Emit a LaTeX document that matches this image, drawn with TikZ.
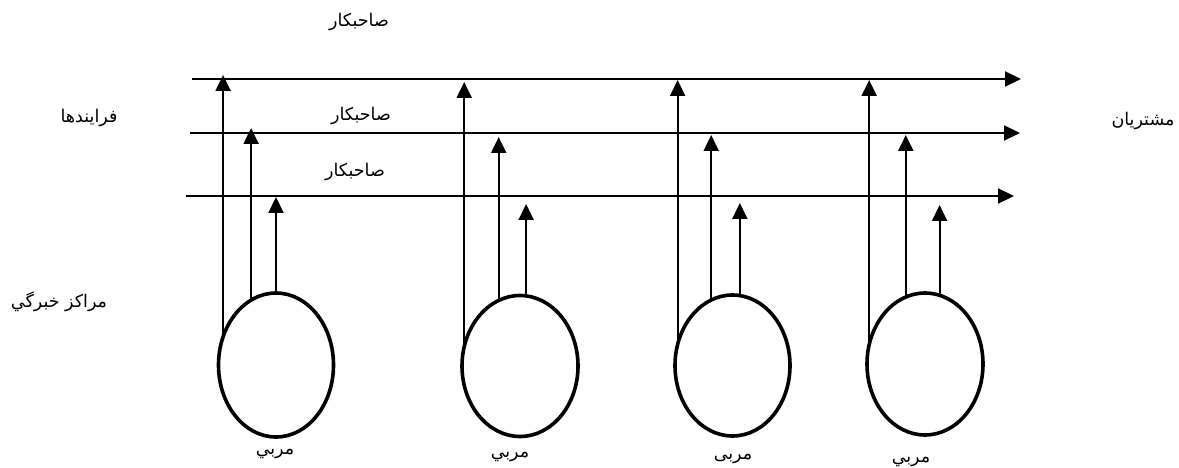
\documentclass[tikz,border=0pt]{standalone}
\usepackage{fontspec}
\newfontfamily\arabicfont[Script=Arabic]{DejaVu Sans}
\TeXXeTstate=1
\usetikzlibrary{arrows.meta,shapes.geometric}
\begin{document}
\begin{tikzpicture}[x=1pt,y=-1pt,
  ln/.style={line width=2.2pt},
  arr/.style={ln,-{Triangle[length=16pt,width=15pt]}},
  oval/.style={ellipse,draw,line width=3.6pt,inner sep=0pt,outer sep=0pt},
  lbl/.style={font=\arabicfont\fontsize{17.5}{20}\selectfont,inner sep=0pt}]
\useasboundingbox[fill=white] (0,0) rectangle (1179,468);

% horizontal process lines
\coordinate (h1s) at (192,79);  \coordinate (h1e) at (1021,79);
\coordinate (h2s) at (190,133); \coordinate (h2e) at (1020,133);
\coordinate (h3s) at (186,196); \coordinate (h3e) at (1014,196);
\draw[arr] (h1s) -- (h1e);
\draw[arr] (h2s) -- (h2e);
\draw[arr] (h3s) -- (h3e);

% labels
\node[lbl] (k1) at (359,22) {\beginR صاحبكار\endR};
\node[lbl] (k2) at (361,116) {\beginR صاحبكار\endR};
\node[lbl] (k3) at (355,172) {\beginR صاحبكار\endR};
\node[lbl] (p) at (89,118) {\beginR فرايندها\endR};
\node[lbl] (c) at (1143,121) {\beginR مشتريان\endR};
\node[lbl] (x) at (59,302) {\beginR مراكز خبرگي\endR};

% expertise centres
\node[oval,minimum width=115pt,minimum height=144pt] (e1) at (276,365) {};
\node[oval,minimum width=116pt,minimum height=141pt] (e2) at (520,366) {};
\node[oval,minimum width=115pt,minimum height=141pt] (e3) at (732.5,365.5) {};
\node[oval,minimum width=116pt,minimum height=142pt] (e4) at (925,364) {};

\node[lbl] (m1) at (275,454) {\beginR مربي\endR};
\node[lbl] (m2) at (510,457) {\beginR مربي\endR};
\node[lbl] (m3) at (733,459) {\beginR مربی\endR};
\node[lbl] (m4) at (911,462) {\beginR مربي\endR};

% arrow tips
\coordinate (t11) at (223,75);  \coordinate (t12) at (251,128); \coordinate (t13) at (276,197);
\coordinate (t21) at (462,82);  \coordinate (t22) at (498,137); \coordinate (t23) at (525,204);
\coordinate (t31) at (676,80);  \coordinate (t32) at (711,135); \coordinate (t33) at (739,203);
\coordinate (t41) at (868,80);  \coordinate (t42) at (905,135); \coordinate (t43) at (939,205);

\draw[arr] (e1.152.2) -- (e1.152.2 |- t11);
\draw[arr] (e1.111.1) -- (e1.111.1 |- t12);
\draw[arr] (e1.north) -- (e1.north |- t13);

\draw[arr] (e2.161.9) -- (e2.161.9 |- t21);
\draw[arr] (e2.108.6) -- (e2.108.6 |- t22);
\draw[arr] (e2.85.9) -- (e2.85.9 |- t23);

\draw[arr] (e3.159.5) -- (e3.159.5 |- t31);
\draw[arr] (e3.108.2) -- (e3.108.2 |- t32);
\draw[arr] (e3.84.7) -- (e3.84.7 |- t33);

\draw[arr] (e4.161.7) -- (e4.161.7 |- t41);
\draw[arr] (e4.106.7) -- (e4.106.7 |- t42);
\draw[arr] (e4.78.5) -- (e4.78.5 |- t43);
\end{tikzpicture}
\end{document}
